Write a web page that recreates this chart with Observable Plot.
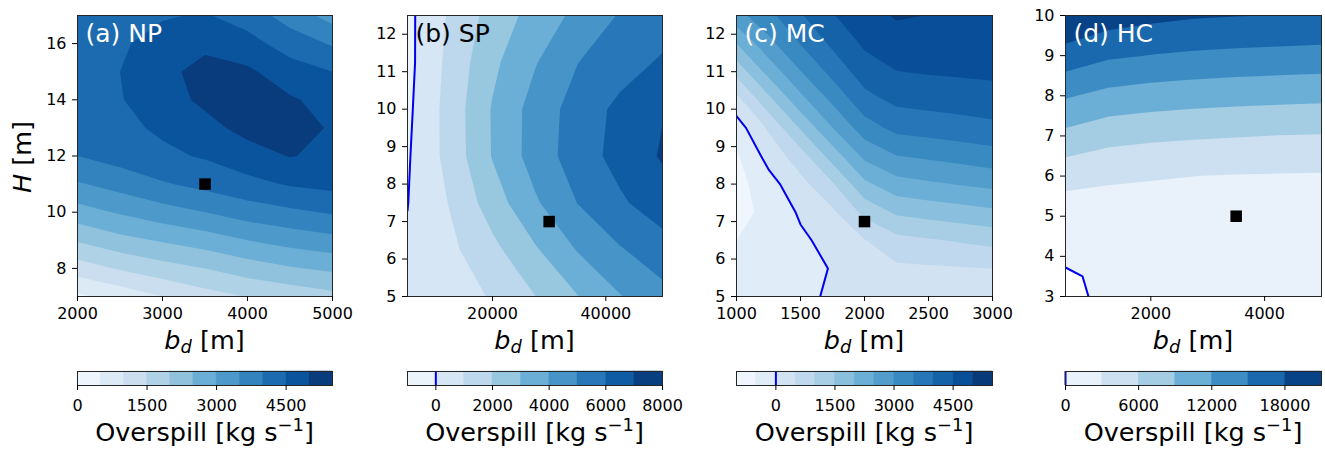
<!DOCTYPE html>
<html>
<head>
<meta charset="utf-8">
<script src="https://cdn.jsdelivr.net/npm/d3@7"></script>
<script src="https://cdn.jsdelivr.net/npm/@observablehq/plot@0.6"></script>
<style>
  body { margin: 0; background: #fff; }
  #fig { position: relative; width: 1325px; height: 449px; overflow: hidden;
         font-family: "DejaVu Sans", sans-serif; color: #000; background: #fff; }
  .lab { position: absolute; font-size: 25.5px; line-height: 26px; white-space: nowrap;
         transform: translateX(-50%); }
  .lab sub { font-size: 70%; vertical-align: -0.25em; line-height: 0; }
  .lab sup { font-size: 70%; vertical-align: 0.55em; line-height: 0; }
  .ylab { position: absolute; font-size: 25.5px; line-height: 26px; white-space: nowrap;
          transform: translate(-50%, -50%) rotate(-90deg); }
</style>
</head>
<body>
<div id="fig"></div>
<script>
// ---------------- data ----------------
const panelLabels = ["(a) NP", "(b) SP", "(c) MC", "(d) HC"];

// (a) NP : grid rows listed from lowest H upward
const aX = [2000, 2500, 3000, 3500, 4000, 4500, 5000];
const aY = [7, 8, 9, 10, 11, 12, 13, 14, 15, 16, 17];
const aZ = [
  [400, 690, 1000, 1300, 1520, 1680, 1850],
  [1250, 1550, 1800, 2000, 2250, 2450, 2600],
  [2050, 2350, 2550, 2750, 3000, 3200, 3350],
  [2800, 3050, 3300, 3500, 3750, 3900, 4050],
  [3450, 3700, 3950, 4150, 4350, 4550, 4650],
  [4000, 4200, 4400, 4550, 4800, 5020, 4900],
  [4200, 4380, 4580, 4850, 5150, 5200, 4950],
  [4300, 4470, 4800, 5100, 5230, 5050, 4850],
  [4300, 4500, 4880, 5150, 5080, 4750, 4500],
  [4200, 4430, 4700, 4900, 4700, 4250, 3950],
  [4100, 4300, 4450, 4550, 4250, 3800, 3300]
];
const aLevels = [0, 500, 1000, 1500, 2000, 2500, 3000, 3500, 4000, 4500, 5000, 5500];
const aXTicks = [2000, 3000, 4000, 5000];
const aYTicks = [8, 10, 12, 14, 16];
const aCbTicks = [0, 1500, 3000, 4500];
const aMarker = [{x: 3500, y: 11}];

// (b) SP
const bX = [5000, 12500, 20000, 27500, 35000, 42500, 50000];
const bY = [5, 6.25, 7.5, 8.75, 10, 11.25, 12.5];
const bZ = [
  [200, 620, 1070, 1980, 2960, 3940, 4700],
  [100, 780, 1730, 2880, 4060, 4920, 5550],
  [-20, 1060, 2500, 3860, 5020, 5850, 6560],
  [-100, 1355, 3060, 4430, 5500, 6350, 7100],
  [-200, 1400, 3080, 4400, 5420, 6250, 6950],
  [-280, 1290, 2780, 3930, 4980, 5570, 6130],
  [-250, 1130, 2390, 3380, 4250, 5080, 5500]
];
const bLevels = [-1000, 0, 1000, 2000, 3000, 4000, 5000, 6000, 7000, 8000];
const bXTicks = [20000, 40000];
const bYTicks = [5, 6, 7, 8, 9, 10, 11, 12];
const bCbTicks = [0, 2000, 4000, 6000, 8000];
const bMarker = [{x: 30000, y: 7}];

// (c) MC
const cX = [1000, 1250, 1500, 1750, 2000, 2250, 2500, 2750, 3000];
const cY = [5, 5.75, 6.5, 7.25, 8, 8.75, 9.5, 10.25, 11, 11.75, 12.5];
const cZ = [
  [-300, -200, -80, 50, 150, 210, 240, 270, 300],
  [-400, -300, -120, 20, 300, 410, 440, 470, 500],
  [-500, -400, -90, 170, 480, 850, 950, 1050, 1160],
  [-650, -380, 70, 410, 1140, 1580, 1690, 1790, 1900],
  [-680, -190, 340, 950, 1890, 2310, 2430, 2530, 2630],
  [-560, 170, 780, 1720, 2620, 2990, 3090, 3190, 3300],
  [-240, 570, 1550, 2490, 3270, 3640, 3720, 3800, 3870],
  [330, 1360, 2340, 3110, 3830, 4120, 4180, 4230, 4290],
  [1170, 2170, 2980, 3660, 4250, 4490, 4540, 4570, 4600],
  [2000, 2850, 3520, 4100, 4580, 4780, 4800, 4780, 4790],
  [2830, 3350, 3950, 4470, 4800, 5050, 4990, 4960, 4900]
];
const cLevels = [-1000, -500, 0, 500, 1000, 1500, 2000, 2500, 3000, 3500, 4000, 4500, 5000, 5500];
const cXTicks = [1000, 1500, 2000, 2500, 3000];
const cYTicks = [5, 6, 7, 8, 9, 10, 11, 12];
const cCbTicks = [0, 1500, 3000, 4500];
const cMarker = [{x: 2000, y: 7}];

// (d) HC
const dX = [500, 1250, 2000, 2750, 3500, 4250, 5000];
const dY = [3, 3.5, 4, 4.5, 5, 5.5, 6, 6.5, 7, 7.5, 8, 8.5, 9, 9.5, 10];
const dZ = [
  [-350, 300, 500, 600, 650, 700, 750],
  [-200, 300, 650, 750, 800, 850, 900],
  [250, 600, 900, 1000, 1050, 1100, 1150],
  [1000, 1100, 1300, 1350, 1400, 1400, 1450],
  [1750, 1700, 1800, 1800, 1800, 1800, 1800],
  [2600, 2400, 2400, 2350, 2300, 2250, 2250],
  [4280, 3510, 3200, 3010, 2870, 2800, 2750],
  [6120, 5220, 4850, 4630, 4480, 4360, 4260],
  [8180, 7080, 6600, 6320, 6120, 5940, 5840],
  [10230, 9080, 8600, 8290, 8070, 7900, 7750],
  [12310, 11140, 10640, 10320, 10070, 9900, 9740],
  [14550, 13280, 12740, 12390, 12130, 11960, 11800],
  [16790, 15450, 14910, 14530, 14270, 14100, 13930],
  [18830, 17470, 16870, 16500, 16250, 16070, 15920],
  [20600, 19500, 18800, 18300, 18100, 17930, 17750]
];
const dLevels = [0, 3000, 6000, 9000, 12000, 15000, 18000, 21000];
const dXTicks = [2000, 4000];
const dYTicks = [3, 4, 5, 6, 7, 8, 9, 10];
const dCbTicks = [0, 6000, 12000, 18000];
const dMarker = [{x: 3500, y: 5}];

// ---------------- drawing ----------------
const bluesStops = ["#f7fbff","#deebf7","#c6dbef","#9ecae1","#6baed6","#4292c6","#2171b5","#08519c","#08306b"];
const cmap = d3.piecewise(d3.interpolateRgb, bluesStops);

const panels = [
  {label: panelLabels[0], labelColor: "white", xs: aX, ys: aY, rows: aZ, levels: aLevels, xTicks: aXTicks, yTicks: aYTicks, cbTicks: aCbTicks, marker: aMarker, zero: false},
  {label: panelLabels[1], labelColor: "black", xs: bX, ys: bY, rows: bZ, levels: bLevels, xTicks: bXTicks, yTicks: bYTicks, cbTicks: bCbTicks, marker: bMarker, zero: true},
  {label: panelLabels[2], labelColor: "white", xs: cX, ys: cY, rows: cZ, levels: cLevels, xTicks: cXTicks, yTicks: cYTicks, cbTicks: cCbTicks, marker: cMarker, zero: true},
  {label: panelLabels[3], labelColor: "white", xs: dX, ys: dY, rows: dZ, levels: dLevels, xTicks: dXTicks, yTicks: dYTicks, cbTicks: dCbTicks, marker: dMarker, zero: true}
];

// layout (pixels)
const frameLefts = [77, 407, 736, 1065];
const frameWidths = [255, 255, 256, 256];
const frameTop = 15, frameH = 281;
const PM = {left: 45, right: 28, bottom: 36};
const cbTop = 371, cbH = 14;

const fig = document.getElementById("fig");
const fmt = (d) => String(d);
const svgStyle = {fontFamily: "DejaVu Sans", fontSize: "16px", background: "transparent", overflow: "visible", color: "black"};

function place(el, left, top) {
  el.style.position = "absolute";
  el.style.left = left + "px";
  el.style.top = top + "px";
  fig.appendChild(el);
}

panels.forEach((p, i) => {
  const fx = frameLefts[i], fw = frameWidths[i];
  const nx = p.xs.length, ny = p.ys.length;
  const dx = p.xs[1] - p.xs[0], dy = p.ys[1] - p.ys[0];
  // grid values, row-major from the top row (highest H) down
  const grid = p.rows.slice().reverse().flat();
  // cell-centred extent so that each value sits exactly on its grid node
  const ext = {width: nx, height: ny,
    x1: p.xs[0] - dx / 2, x2: p.xs[nx - 1] + dx / 2,
    y1: p.ys[ny - 1] + dy / 2, y2: p.ys[0] - dy / 2};
  const N = p.levels.length - 1;
  const colors = d3.range(N).map((k) => cmap((k + 0.5) / N));
  const color = {type: "threshold", domain: p.levels.slice(1, -1), range: colors};
  const xDomain = [p.xs[0], p.xs[nx - 1]];
  const yDomain = [p.ys[0], p.ys[ny - 1]];

  const marks = [
    Plot.contour(grid, {...ext, fill: Plot.identity, thresholds: p.levels.slice(0, -1), stroke: "none", clip: true})
  ];
  if (p.zero) {
    marks.push(Plot.contour(grid, {...ext, value: Plot.identity, thresholds: [0], fill: "none", stroke: "#0000ee", strokeWidth: 2, clip: true}));
  }
  marks.push(
    Plot.dot(p.marker, {x: "x", y: "y", symbol: "square", r: 6.5, fill: "black", stroke: "none"}),
    Plot.frame({stroke: "#262626", strokeWidth: 1}),
    Plot.axisX(p.xTicks, {tickSize: 5, tickPadding: 6, tickFormat: fmt, fontSize: 16, label: null}),
    Plot.axisY(p.yTicks, {tickSize: 5, tickPadding: 6, tickFormat: fmt, fontSize: 16, label: null}),
    Plot.text([p.label], {text: (d) => d, frameAnchor: "top-left", textAnchor: "start", lineAnchor: "top", dx: 8, dy: 9, fontSize: 25, fill: p.labelColor})
  );
  const svg = Plot.plot({
    width: fw + PM.left + PM.right,
    height: frameTop + frameH + PM.bottom,
    marginLeft: PM.left, marginRight: PM.right, marginTop: frameTop, marginBottom: PM.bottom,
    x: {domain: xDomain},
    y: {domain: yDomain},
    color,
    style: svgStyle,
    marks
  });
  place(svg, fx - PM.left, 0);

  // colorbar
  const bins = d3.pairs(p.levels).map(([lo, hi]) => ({lo, hi}));
  const cbMarks = [
    Plot.rect(bins, {x1: "lo", x2: "hi", y1: 0, y2: 1, fill: "lo", stroke: "lo", strokeWidth: 0.5})
  ];
  if (p.zero) cbMarks.push(Plot.ruleX([0], {stroke: "#0000ee", strokeWidth: 2}));
  cbMarks.push(
    Plot.frame({stroke: "#262626", strokeWidth: 1}),
    Plot.axisX(p.cbTicks, {tickSize: 5, tickPadding: 9, tickFormat: fmt, fontSize: 16, label: null})
  );
  const cb = Plot.plot({
    width: fw + 50, height: cbH + 1 + 38,
    marginLeft: 25, marginRight: 25, marginTop: 1, marginBottom: 38,
    x: {domain: [p.levels[0], p.levels[N]]},
    y: {domain: [0, 1], axis: null},
    color,
    style: svgStyle,
    marks: cbMarks
  });
  place(cb, fx - 25, cbTop - 1);

  // x label
  const xl = document.createElement("div");
  xl.className = "lab";
  xl.innerHTML = "<i>b</i><sub><i>d</i></sub> [m]";
  place(xl, fx + fw / 2, 327);

  // colorbar label
  const cl = document.createElement("div");
  cl.className = "lab";
  cl.innerHTML = "Overspill [kg s<sup>\u22121</sup>]";
  place(cl, fx + fw / 2, 419);
});

// y label for panel (a)
const yl = document.createElement("div");
yl.className = "ylab";
yl.innerHTML = "<i>H</i> [m]";
place(yl, 22, 157);
</script>
</body>
</html>
